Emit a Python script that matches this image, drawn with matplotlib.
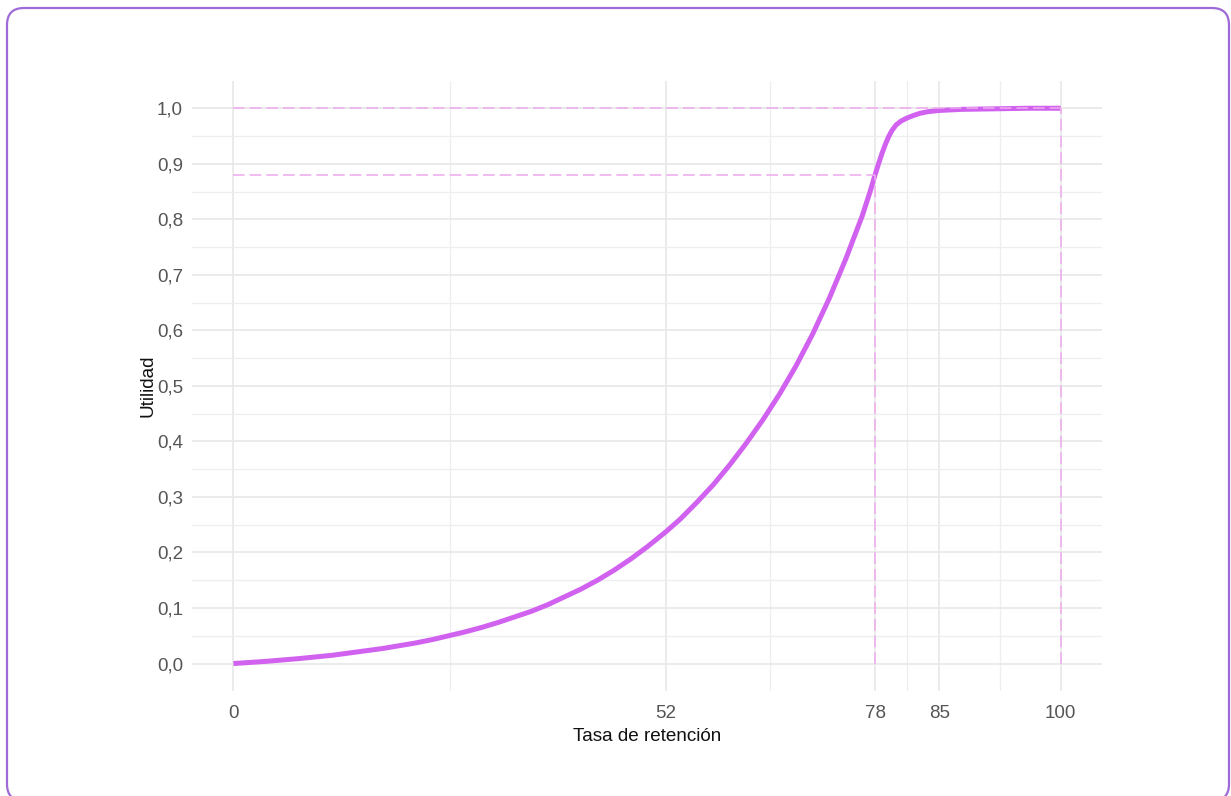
import matplotlib
matplotlib.use('Agg')
import matplotlib.pyplot as plt
from matplotlib.patches import FancyBboxPatch
from matplotlib.transforms import IdentityTransform

# ---- data ----
retention = [0, 2, 4, 6, 8, 10, 12, 14, 16, 18, 20, 22, 24, 26, 28, 30, 32, 34,
             36, 38, 40, 42, 44, 46, 48, 50, 52.25, 54, 56, 58, 60, 62, 64, 66,
             68, 70, 72, 74, 75, 76, 77, 77.55, 78.0, 78.4, 78.8, 79.2, 79.6,
             80.1, 80.7, 81.5, 82.2, 83.0, 84.0, 85.3, 88, 92, 96, 100]
utility = [0.000, 0.002, 0.004, 0.0065, 0.009, 0.012, 0.015, 0.019, 0.023,
           0.027, 0.032, 0.037, 0.043, 0.050, 0.057, 0.065, 0.074, 0.084,
           0.094, 0.106, 0.120, 0.134, 0.150, 0.168, 0.188, 0.210, 0.237,
           0.260, 0.290, 0.322, 0.358, 0.397, 0.439, 0.485, 0.536, 0.593,
           0.657, 0.728, 0.767, 0.806, 0.852, 0.880, 0.901, 0.919, 0.935,
           0.949, 0.960, 0.970, 0.977, 0.983, 0.987, 0.991, 0.994, 0.996,
           0.998, 0.999, 1.000, 1.000]

x_ticks = [0, 52.25, 77.55, 85.3, 100]
x_tick_labels = ['0', '52', '78', '85', '100']
y_ticks = [0.0, 0.1, 0.2, 0.3, 0.4, 0.5, 0.6, 0.7, 0.8, 0.9, 1.0]
y_tick_labels = ['0,0', '0,1', '0,2', '0,3', '0,4', '0,5', '0,6', '0,7', '0,8', '0,9', '1,0']

threshold_x = 77.55
threshold_y = 0.88
max_x = 100
max_y = 1.0

x_label = 'Tasa de retención'
y_label = 'Utilidad'

# ---- style ----
plt.rcParams['font.family'] = ['Liberation Sans', 'DejaVu Sans']
plt.rcParams['lines.scale_dashes'] = False

W, H = 1231, 796
fig = plt.figure(figsize=(W / 100, H / 100), dpi=100)
fig.patch.set_facecolor('white')

# outer rounded frame (pixel coordinates, origin bottom-left)
frame = FancyBboxPatch((7, -5), 1222, 793,
                       boxstyle='round,pad=0,rounding_size=17',
                       transform=IdentityTransform(), facecolor='none',
                       edgecolor='#9d6ad8', linewidth=1.6)
fig.patches.append(frame)

ax = fig.add_axes([192.1 / W, 1 - 691.3 / H, 910 / W, 610.8 / H])
ax.set_xlim(-5, 105)
ax.set_ylim(-0.05, 1.05)

for s in ax.spines.values():
    s.set_visible(False)

ax.set_xticks(x_ticks)
ax.set_xticklabels(x_tick_labels)
ax.set_yticks(y_ticks)
ax.set_yticklabels(y_tick_labels)

x_minor = [(a + b) / 2 for a, b in zip(x_ticks[:-1], x_ticks[1:])]
y_minor = [(a + b) / 2 for a, b in zip(y_ticks[:-1], y_ticks[1:])]
ax.set_xticks(x_minor, minor=True)
ax.set_yticks(y_minor, minor=True)

ax.tick_params(which='both', length=0)
ax.tick_params(axis='x', which='major', labelsize=13.5, labelcolor='#555555', pad=10)
ax.tick_params(axis='y', which='major', labelsize=13.5, labelcolor='#555555', pad=6.5)

ax.grid(True, which='major', color='#e6e6e6', linewidth=1.1, zorder=0)
ax.grid(True, which='minor', color='#eeeeee', linewidth=0.9, zorder=0)
ax.set_axisbelow(True)

ax.plot(retention, utility, color='#d162f0', linewidth=3.6,
        solid_capstyle='butt', solid_joinstyle='round', zorder=2)

dash = (0, (8.4, 3.6))
dcol = '#eeaaee'
ax.plot([0, threshold_x], [threshold_y, threshold_y], color=dcol, lw=1.1, linestyle=dash, zorder=3)
ax.plot([threshold_x, threshold_x], [0, threshold_y], color=dcol, lw=1.1, linestyle=dash, zorder=3)
ax.plot([0, max_x], [max_y, max_y], color=dcol, lw=1.1, linestyle=dash, zorder=3)
ax.plot([max_x, max_x], [0, max_y], color=dcol, lw=1.1, linestyle=dash, zorder=3)

ax.set_xlabel(x_label, fontsize=13.6, color='#111111', labelpad=4)
ax.set_ylabel(y_label, fontsize=13.6, color='#111111', labelpad=0)

fig.savefig('out.png', dpi=100, facecolor='white')
